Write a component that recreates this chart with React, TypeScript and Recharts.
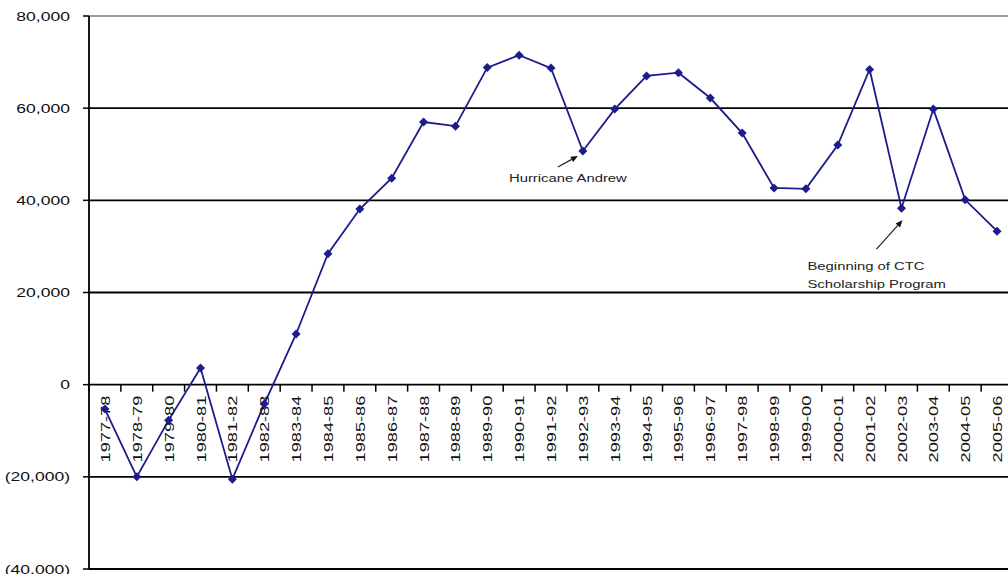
import React from "react";
import {
  LineChart,
  Line,
  XAxis,
  YAxis,
  ReferenceLine,
  ReferenceDot,
} from "recharts";

const categories = [
  "1977-78", "1978-79", "1979-80", "1980-81", "1981-82", "1982-83",
  "1983-84", "1984-85", "1985-86", "1986-87", "1987-88", "1988-89",
  "1989-90", "1990-91", "1991-92", "1992-93", "1993-94", "1994-95",
  "1995-96", "1996-97", "1997-98", "1998-99", "1999-00", "2000-01",
  "2001-02", "2002-03", "2003-04", "2004-05", "2005-06",
];

const netChange = [
  -5300, -20000, -7700, 3600, -20500, -4200,
  11000, 28400, 38100, 44800, 57000, 56100,
  68800, 71500, 68700, 50700, 59800, 67000,
  67700, 62200, 54600, 42700, 42500, 52000,
  68400, 38300, 59800, 40100, 33300,
];

const yTicks = [-40000, -20000, 0, 20000, 40000, 60000, 80000];
const gridValues = [-40000, -20000, 20000, 40000, 60000];

const hurricaneNote = { category: "1992-93", value: 50700, lines: ["Hurricane Andrew"] };
const ctcNote = {
  category: "2002-03",
  value: 38300,
  lines: ["Beginning of CTC", "Scholarship Program"],
};

const data = categories.map((name, i) => ({ name, value: netChange[i] }));

const FONT = "Arial, 'Liberation Sans', sans-serif";
const STRETCH = 1.35;
const LINE_COLOR = "#1c1c8c";

const fmt = (v: number) =>
  v < 0 ? `(${Math.abs(v).toLocaleString("en-US")})` : v.toLocaleString("en-US");

const YTick = (props: any) => {
  const { x, y, payload } = props;
  return (
    <text
      transform={`translate(${x},${y}) scale(${STRETCH},1)`}
      textAnchor="end"
      dominantBaseline="central"
      fontSize={13}
      fontFamily={FONT}
      fill="#111"
    >
      {fmt(payload.value)}
    </text>
  );
};

const Diamond = (props: any) => {
  const { cx, cy, index } = props;
  if (cx == null || cy == null) return null;
  const r = 4.5;
  return (
    <path
      key={`d-${index}`}
      d={`M${cx},${cy - r}L${cx + r},${cy}L${cx},${cy + r}L${cx - r},${cy}Z`}
      fill={LINE_COLOR}
    />
  );
};

// category axis drawn where the value axis crosses zero
const ZeroAxis = (props: any) => {
  const { x1, y1, x2 } = props;
  const n = categories.length;
  const step = (x2 - x1) / n;
  return (
    <g>
      <line x1={x1} y1={y1} x2={x2} y2={y1} stroke="#000" strokeWidth={1.8} />
      {Array.from({ length: n + 1 }, (_, i) => (
        <line
          key={i}
          x1={x1 + i * step}
          x2={x1 + i * step}
          y1={y1}
          y2={y1 + 7}
          stroke="#000"
          strokeWidth={1.5}
        />
      ))}
    </g>
  );
};

const catLabel = (name: string) => (p: any) => (
  <text
    transform={`translate(${p.cx},${p.cy + 11}) rotate(-90) scale(${STRETCH},1)`}
    textAnchor="end"
    dominantBaseline="central"
    fontSize={13.5}
    fontFamily={FONT}
    fill="#111"
  >
    {name}
  </text>
);

const Arrow = ({ x1, y1, x2, y2 }: any) => {
  const dx = x2 - x1;
  const dy = y2 - y1;
  const len = Math.hypot(dx, dy);
  const ux = dx / len;
  const uy = dy / len;
  const h = 7;
  const w = 3;
  const bx = x2 - ux * h;
  const by = y2 - uy * h;
  return (
    <g>
      <line x1={x1} y1={y1} x2={bx} y2={by} stroke="#222" strokeWidth={1.2} />
      <polygon
        points={`${x2},${y2} ${bx - uy * w},${by + ux * w} ${bx + uy * w},${by - ux * w}`}
        fill="#111"
      />
    </g>
  );
};

const hurricaneShape = (p: any) => (
  <g>
    <Arrow x1={p.cx - 25} y1={p.cy + 16} x2={p.cx - 5} y2={p.cy + 5} />
    <text
      transform={`translate(${p.cx - 15},${p.cy + 27}) scale(${STRETCH},1)`}
      textAnchor="middle"
      dominantBaseline="central"
      fontSize={11}
      fontFamily={FONT}
      fill="#222"
    >
      {hurricaneNote.lines[0]}
    </text>
  </g>
);

const ctcShape = (p: any) => (
  <g>
    <Arrow x1={p.cx - 25} y1={p.cy + 41} x2={p.cx + 1} y2={p.cy + 12} />
    {ctcNote.lines.map((t, i) => (
      <text
        key={t}
        transform={`translate(${p.cx - 94},${p.cy + 58 + i * 18}) scale(${STRETCH},1)`}
        textAnchor="start"
        dominantBaseline="central"
        fontSize={11}
        fontFamily={FONT}
        fill="#222"
      >
        {t}
      </text>
    ))}
  </g>
);

export default function App() {
  return (
    <div
      style={{
        position: "fixed",
        left: 0,
        top: 0,
        width: 1008,
        height: 574,
        overflow: "hidden",
        background: "#fff",
      }}
    >
      <LineChart
        width={1013}
        height={574}
        data={data}
        margin={{ top: 16, right: 0, bottom: 5, left: 0 }}
      >
        <XAxis dataKey="name" scale="band" hide />
        <YAxis
          width={89}
          domain={[-40000, 80000]}
          ticks={yTicks}
          interval={0}
          tick={<YTick />}
          tickSize={6}
          tickMargin={13}
          axisLine={{ stroke: "#000", strokeWidth: 1.8 }}
          tickLine={{ stroke: "#000", strokeWidth: 1.5 }}
        />
        <ReferenceLine y={80000} stroke="#9a9a9a" strokeWidth={1.8} />
        {gridValues.map((v) => (
          <ReferenceLine key={v} y={v} stroke="#000" strokeWidth={1.8} />
        ))}
        <ReferenceLine y={0} shape={ZeroAxis} />
        {categories.map((c) => (
          <ReferenceDot key={c} x={c} y={0} r={0} shape={catLabel(c)} />
        ))}
        <Line
          type="linear"
          dataKey="value"
          stroke={LINE_COLOR}
          strokeWidth={1.8}
          dot={Diamond}
          activeDot={false}
          isAnimationActive={false}
        />
        <ReferenceDot
          x={hurricaneNote.category}
          y={hurricaneNote.value}
          r={0}
          shape={hurricaneShape}
        />
        <ReferenceDot x={ctcNote.category} y={ctcNote.value} r={0} shape={ctcShape} />
      </LineChart>
    </div>
  );
}
